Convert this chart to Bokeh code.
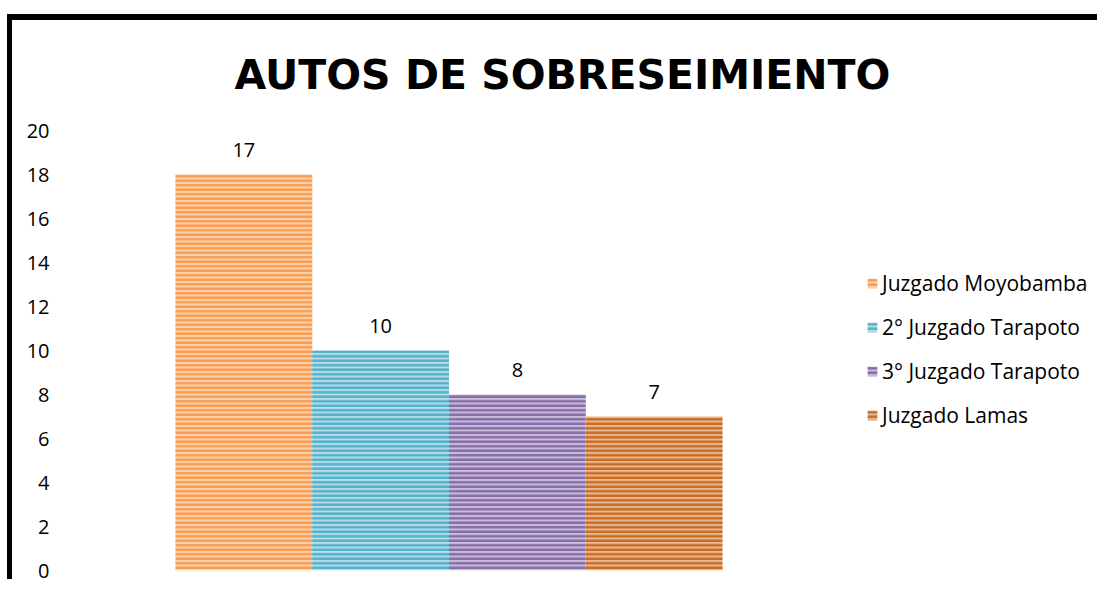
from bokeh.plotting import figure
from bokeh.models import ColumnDataSource, Range1d, LabelSet, FixedTicker
from bokeh.core.properties import value
from bokeh.embed import file_html
from bokeh.resources import INLINE

# ---- data ----
series = ["Juzgado Moyobamba", "2° Juzgado Tarapoto", "3° Juzgado Tarapoto", "Juzgado Lamas"]
values = [18, 10, 8, 7]
value_labels = ["17", "10", "8", "7"]
y_ticks = [0, 2, 4, 6, 8, 10, 12, 14, 16, 18, 20]
title_text = "AUTOS DE SOBRESEIMIENTO"

# ---- styles ----
fill_colors = ["#FCD2AE", "#B4DDE8", "#C9BDDB", "#E8B893"]
hatch_colors = ["#F79646", "#4BACC6", "#8064A2", "#C5651A"]
FONT = "Open Sans"

src = ColumnDataSource(dict(
    x=list(range(len(series))),
    top=values,
    series=series,
    label=value_labels,
    fill=fill_colors,
    hatch=hatch_colors,
))

p = figure(
    width=1090, height=565,
    output_backend="svg", toolbar_location=None,
    x_range=Range1d(-1.341, 6.279), y_range=Range1d(0, 20),
    min_border_left=48, min_border_bottom=15, min_border_top=110, min_border_right=0,
    styles={"margin-top": "20px", "margin-left": "12px",
            "box-shadow": "-5px -6px 0px 0px #000000"},
)

# hide the default bottom axis
for ax in p.below:
    ax.visible = False

p.vbar(x="x", top="top", width=1, source=src, fill_color="fill",
       hatch_pattern="-", hatch_color="hatch", hatch_scale=4.5, hatch_weight=2.5, hatch_alpha=0.9,
       line_color=None, legend_field="series")

labels = LabelSet(x="x", y="top", text="label", source=src, y_offset=25,
                  text_align="center", text_baseline="middle",
                  text_font=value(FONT), text_font_size=value("20px"), text_color=value("#000000"))
p.add_layout(labels)

p.title.text = title_text
p.title.text_font = "DejaVu Sans"
p.title.text_font_size = "41px"
p.title.text_font_style = "bold"
p.title.text_color = "#000000"
p.title.align = "left"
p.title.vertical_align = "top"
p.title.offset = 174
p.title.standoff = 59

p.yaxis.ticker = FixedTicker(ticks=y_ticks)
p.yaxis.axis_line_color = None
p.yaxis.major_tick_line_color = None
p.yaxis.minor_tick_line_color = None
p.yaxis.major_label_text_font = FONT
p.yaxis.major_label_text_font_size = "20px"
p.yaxis.major_label_text_color = "#000000"
p.yaxis.major_label_standoff = 5
p.xgrid.visible = False
p.ygrid.visible = False
p.outline_line_color = None

lg = p.legend[0]
lg.location = (806, 141)
lg.padding = 0
lg.margin = 0
lg.border_line_alpha = 0
lg.background_fill_alpha = 0
lg.glyph_width = 12
lg.glyph_height = 12
lg.label_height = 20
lg.spacing = 16
lg.label_standoff = 4
lg.label_text_font = FONT
lg.label_text_font_size = "21px"
lg.label_text_color = "#000000"

open("out.html", "w").write(file_html(p, INLINE))
